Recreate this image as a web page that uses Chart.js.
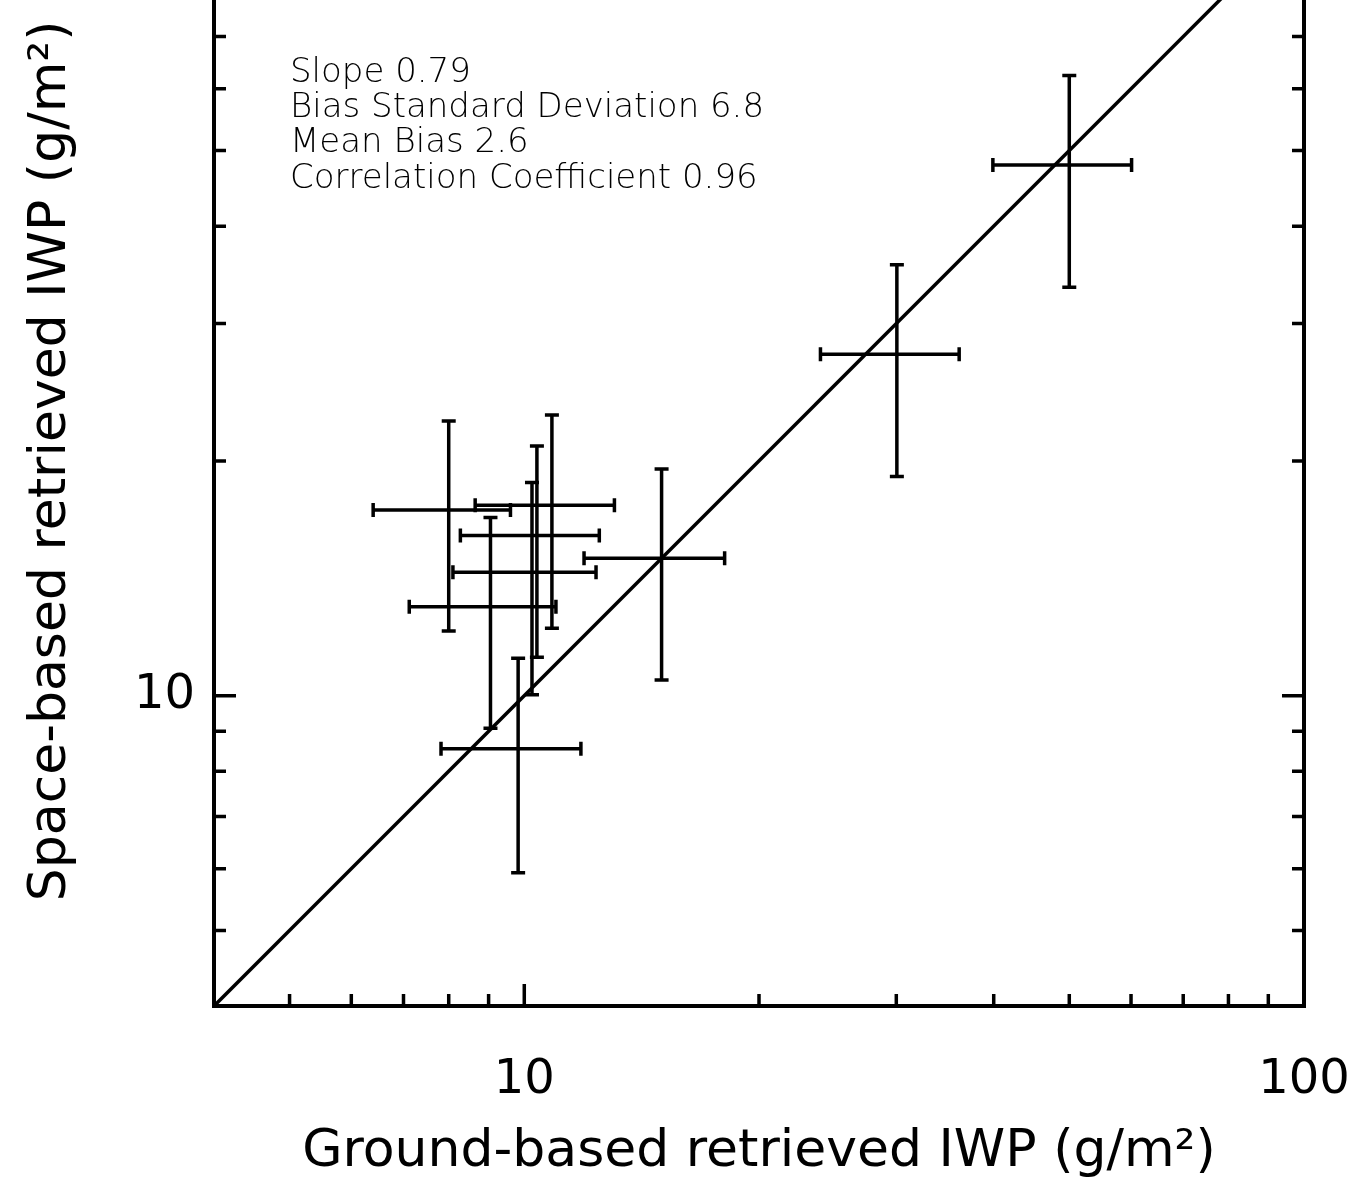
<!DOCTYPE html>
<html>
<head>
<meta charset="utf-8">
<title>Space-based vs ground-based IWP</title>
<script src="https://cdn.jsdelivr.net/npm/chart.js@4/dist/chart.umd.min.js"></script>
<style>
  html, body { margin: 0; padding: 0; background: #fff; overflow: hidden; }
  #wrap { position: relative; width: 1357px; height: 1184px; overflow: hidden; }
  /* the plot's top edge is cut off in the figure, so the canvas sits a bit above the page */
  #iwpChart { position: absolute; left: 0; top: -113px; }
</style>
</head>
<body>
<div id="wrap"><canvas id="iwpChart" width="1357" height="1297"></canvas></div>
<script>
// values, g/m^2
const groundIWP = [8.0, 10.85, 10.38, 10.23, 9.05, 9.82, 15.0, 30.05, 50.0];
const spaceIWP  = [17.3, 17.55, 16.05, 14.4, 13.0, 8.55, 15.0, 27.4, 47.9];
const groundErr = [1.6, 2.2, 2.1, 2.13, 1.93, 2.0, 3.07, 6.07, 10.1];
const spaceErr  = [5.2, 5.35, 4.85, 4.37, 3.92, 2.62, 4.53, 8.3, 14.5];

const oneToOne = [4, 100];
const tickValues = [4, 5, 6, 7, 8, 9, 10, 20, 30, 40, 50, 60, 70, 80, 90, 100];
const majorTicks = [10, 100];
const xTickLabels = [10, 100];
const yTickLabels = [10];

const statsLines = [
  'Slope 0.79',
  'Bias Standard Deviation 6.8',
  'Mean Bias 2.6',
  'Correlation Coefficient 0.96'
];

const FONT = 'DejaVu Sans';

// box round the plot with inward ticks on every side
const frameTicks = {
  id: 'frameTicks',
  afterDraw(chart) {
    const {ctx, chartArea: a, scales: {x, y}} = chart;
    ctx.save();
    ctx.strokeStyle = '#000';
    ctx.lineWidth = 3.5;
    tickValues.forEach(v => {
      const len = majorTicks.includes(v) ? 22 : 12;
      const px = x.getPixelForValue(v);
      const py = y.getPixelForValue(v);
      ctx.beginPath();
      ctx.moveTo(px, a.bottom); ctx.lineTo(px, a.bottom - len);
      ctx.moveTo(px, a.top); ctx.lineTo(px, a.top + len);
      ctx.moveTo(a.left, py); ctx.lineTo(a.left + len, py);
      ctx.moveTo(a.right, py); ctx.lineTo(a.right - len, py);
      ctx.stroke();
    });
    ctx.lineWidth = 4;
    ctx.strokeRect(a.left, a.top, a.right - a.left, a.bottom - a.top);
    ctx.restore();
  }
};

// x and y error bars with small end caps
const errorBars = {
  id: 'errorBars',
  afterDatasetsDraw(chart) {
    const {ctx, scales: {x, y}} = chart;
    const cap = 7;
    ctx.save();
    ctx.strokeStyle = '#000';
    ctx.lineWidth = 3.5;
    groundIWP.forEach((g, i) => {
      const s = spaceIWP[i];
      const cx = x.getPixelForValue(g);
      const cy = y.getPixelForValue(s);
      const x0 = x.getPixelForValue(g - groundErr[i]);
      const x1 = x.getPixelForValue(g + groundErr[i]);
      const y0 = y.getPixelForValue(s - spaceErr[i]);
      const y1 = y.getPixelForValue(s + spaceErr[i]);
      ctx.beginPath();
      ctx.moveTo(x0, cy); ctx.lineTo(x1, cy);
      ctx.moveTo(x0, cy - cap); ctx.lineTo(x0, cy + cap);
      ctx.moveTo(x1, cy - cap); ctx.lineTo(x1, cy + cap);
      ctx.moveTo(cx, y0); ctx.lineTo(cx, y1);
      ctx.moveTo(cx - cap, y0); ctx.lineTo(cx + cap, y0);
      ctx.moveTo(cx - cap, y1); ctx.lineTo(cx + cap, y1);
      ctx.stroke();
    });
    ctx.restore();
  }
};

// statistics block, top left inside the plot
const statsText = {
  id: 'statsText',
  afterDraw(chart) {
    const {ctx, chartArea: a} = chart;
    ctx.save();
    ctx.fillStyle = '#000';
    ctx.font = '200 34px "' + FONT + '"';
    ctx.textAlign = 'left';
    ctx.textBaseline = 'alphabetic';
    statsLines.forEach((t, i) => ctx.fillText(t, a.left + 76, a.top + 166 + i * 35.3));
    ctx.restore();
  }
};

const setTicks = scale => { scale.ticks = tickValues.map(v => ({value: v})); };

new Chart(document.getElementById('iwpChart'), {
  type: 'scatter',
  data: {
    datasets: [
      {
        data: oneToOne.map(v => ({x: v, y: v})),
        showLine: true,
        borderColor: '#000',
        borderWidth: 3.5,
        pointRadius: 0
      },
      {
        data: groundIWP.map((g, i) => ({x: g, y: spaceIWP[i]})),
        pointRadius: 0,
        showLine: false
      }
    ]
  },
  options: {
    responsive: false,
    animation: false,
    devicePixelRatio: 1,
    layout: {padding: {left: 0, top: 0, right: 53, bottom: 0}},
    plugins: {legend: {display: false}, tooltip: {enabled: false}},
    scales: {
      x: {
        type: 'logarithmic',
        min: 4,
        max: 100,
        afterBuildTicks: setTicks,
        afterFit: s => { s.height = 178; },
        grid: {display: false, drawTicks: true, tickLength: 46},
        border: {display: false},
        ticks: {
          autoSkip: false,
          maxRotation: 0,
          padding: 0,
          color: '#000',
          font: {family: FONT, size: 48},
          callback: v => xTickLabels.includes(v) ? String(v) : null
        },
        title: {
          display: true,
          text: 'Ground-based retrieved IWP (g/m²)',
          color: '#000',
          font: {family: FONT, size: 52},
          padding: {top: 0, bottom: 0}
        }
      },
      y: {
        type: 'logarithmic',
        min: 4,
        max: 100,
        afterBuildTicks: setTicks,
        afterFit: s => { s.width = 214; },
        grid: {display: false, drawTicks: true, tickLength: 19},
        border: {display: false},
        ticks: {
          autoSkip: false,
          padding: 0,
          color: '#000',
          font: {family: FONT, size: 48},
          callback: v => yTickLabels.includes(v) ? String(v) : null
        },
        title: {
          display: true,
          text: 'Space-based retrieved IWP (g/m²)',
          color: '#000',
          font: {family: FONT, size: 52},
          padding: {top: 20, bottom: 0}
        }
      }
    }
  },
  plugins: [frameTicks, errorBars, statsText]
});
</script>
</body>
</html>
